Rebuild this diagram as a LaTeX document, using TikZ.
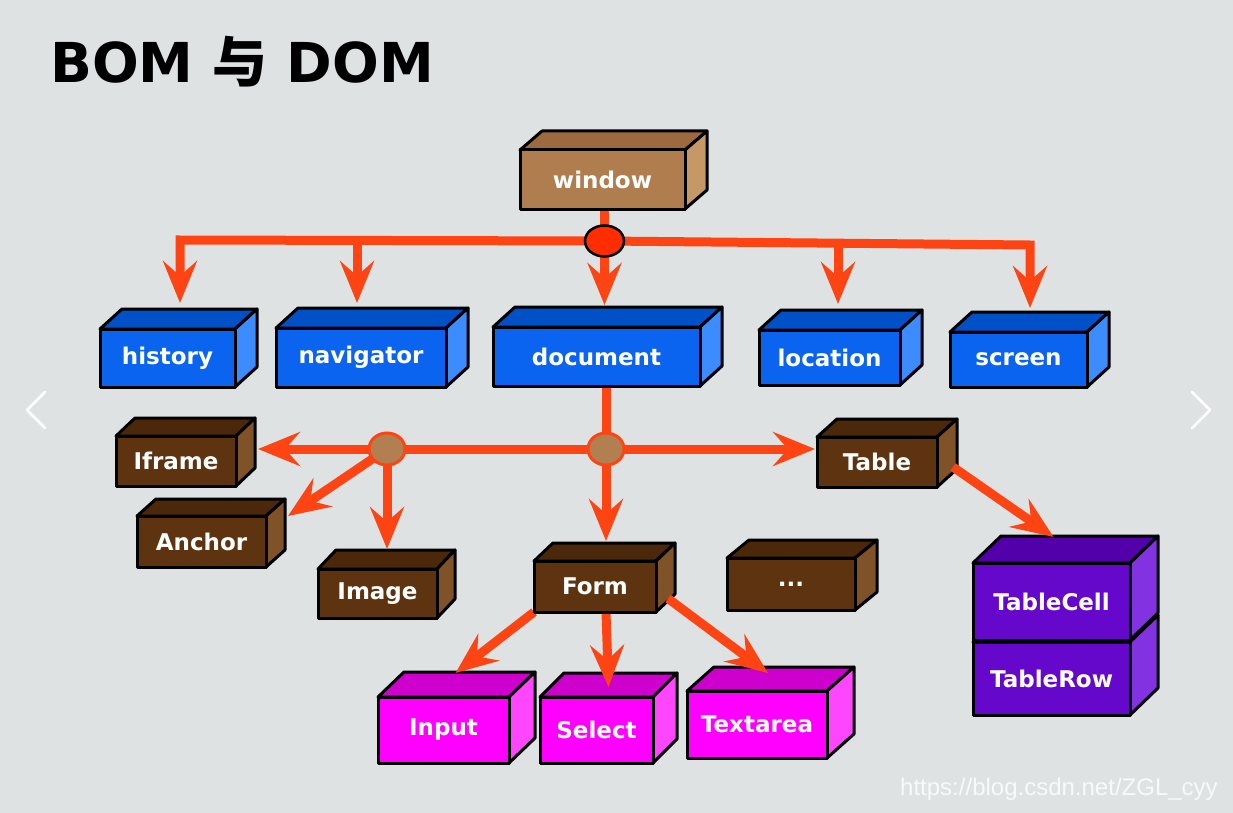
\documentclass[tikz,border=0pt]{standalone}
\usepackage{fontspec}
\setmainfont{DejaVu Sans}
\newfontfamily\cjk{Noto Sans CJK SC}
\newfontfamily\markfont{Liberation Sans}
\usepackage{xcolor}
\usetikzlibrary{arrows.meta,shapes.geometric,calc}

\definecolor{slidegray}{RGB}{222,226,226}
\definecolor{arrowred}{RGB}{255,68,20}
\definecolor{jred}{RGB}{255,45,0}
\definecolor{jbrown}{RGB}{178,128,80}
\definecolor{winfront}{RGB}{176,126,78}
\definecolor{wintop}{RGB}{156,106,62}
\definecolor{winside}{RGB}{198,152,102}
\definecolor{bomfront}{RGB}{10,100,240}
\definecolor{bomtop}{RGB}{0,80,200}
\definecolor{bomside}{RGB}{60,140,255}
\definecolor{domfront}{RGB}{94,52,16}
\definecolor{domtop}{RGB}{76,40,10}
\definecolor{domside}{RGB}{128,82,40}
\definecolor{formfront}{RGB}{255,0,255}
\definecolor{formtop}{RGB}{205,0,205}
\definecolor{formside}{RGB}{255,70,255}
\definecolor{cellfront}{RGB}{102,8,204}
\definecolor{celltop}{RGB}{82,0,170}
\definecolor{cellside}{RGB}{130,50,224}

\pgfdeclarelayer{backdrop}
\pgfdeclarelayer{faces}
\pgfdeclarelayer{lines}
\pgfsetlayers{backdrop,faces,lines,main}

\begin{document}
\begin{tikzpicture}[x=1pt,y=-1pt,
  box/.style={draw=black,line width=3pt,line join=round,outer sep=0pt,inner sep=0pt,
    text=white,font=\fontsize{23}{26}\selectfont\bfseries},
  face/.style={draw=black,line width=3pt,line join=round},
  conn/.style={draw=arrowred,line width=9pt},
  pointer/.style={-{Stealth[length=42pt,width=34pt,inset=15pt]},shorten >=#1},
  pointer/.default=0pt,
  junc/.style={ellipse,inner sep=0pt,outer sep=0pt}]
  \useasboundingbox (0,0) rectangle (1233,813);
  \begin{pgfonlayer}{backdrop}
    \fill[slidegray] (0,0) rectangle (1233,813);
  \end{pgfonlayer}

  % title and slide marks
  \node[anchor=base west,inner sep=0pt,font=\fontsize{55}{60}\selectfont\bfseries] (title) at (50,83) {BOM {\cjk 与} DOM};
  \node[anchor=base west,inner sep=0pt,text=white,opacity=0.8,font=\markfont\fontsize{24}{26}\selectfont] (mark) at (900,795) {https://blog.csdn.net/ZGL\_cyy};
  \draw[white,line width=2.5pt,line cap=round,line join=round] (45,392) -- (27,410) -- (45,428);
  \draw[white,line width=2.5pt,line cap=round,line join=round] (1192,392) -- (1210,410) -- (1192,428);

  % BOM
  \node[box,fill=winfront,minimum width=165,minimum height=59] (window) at (602.5,179.5) {window};
  \node[box,fill=bomfront,minimum width=135,minimum height=58] (history) at (167.5,358) {history};
  \node[box,fill=bomfront,minimum width=170,minimum height=59] (navigator) at (361,357.5) {navigator};
  \node[box,fill=bomfront,minimum width=207,minimum height=59] (document) at (596.5,356.5) {document};
  \node[box,fill=bomfront,minimum width=141,minimum height=55] (location) at (829.5,357.5) {location};
  \node[box,fill=bomfront,minimum width=137,minimum height=55] (screen) at (1018.5,359.5) {screen};

  % DOM
  \node[box,fill=domfront,minimum width=120,minimum height=50] (iframe) at (176,461) {Iframe};
  \node[box,fill=domfront,minimum width=129,minimum height=51] (anchor) at (201.5,541.5) {Anchor};
  \node[box,fill=domfront,minimum width=119,minimum height=49] (image) at (377.5,593.5) {Image};
  \node[box,fill=domfront,minimum width=122,minimum height=51] (form) at (595,586.5) {Form};
  \node[box,fill=domfront,minimum width=128,minimum height=52] (more) at (791,584) {...};
  \node[box,fill=domfront,minimum width=120,minimum height=50] (table) at (877,462) {Table};
  \node[box,fill=formfront,minimum width=131,minimum height=66] (input) at (443.5,730) {Input};
  \node[box,fill=formfront,minimum width=113,minimum height=66] (select) at (596.5,730) {Select};
  \node[box,fill=formfront,minimum width=140,minimum height=67] (textarea) at (757,724.5) {Textarea};
  \node[box,fill=cellfront,minimum width=157,minimum height=73] (tablerow) at (1051.5,678.5) {TableRow};
  \node[box,fill=cellfront,minimum width=157,minimum height=77] (tablecell) at (1051.5,601.5) {TableCell};

  % top and side of every box
  \begin{pgfonlayer}{faces}
    \foreach \n/\t/\s/\d/\e in {window/wintop/winside/22/19,
        history/bomtop/bomside/22/20, navigator/bomtop/bomside/22/20,
        document/bomtop/bomside/22/20, location/bomtop/bomside/22/20,
        screen/bomtop/bomside/22/20,
        iframe/domtop/domside/19/18, anchor/domtop/domside/19/17,
        image/domtop/domside/18/19, form/domtop/domside/19/18,
        more/domtop/domside/22/18, table/domtop/domside/20/18,
        input/formtop/formside/26/25, select/formtop/formside/24/24,
        textarea/formtop/formside/27/24,
        tablerow/celltop/cellside/28/27, tablecell/celltop/cellside/28/27} {
      \draw[face,fill=\t] (\n.north west) -- ++(\d,-\e) -- ([xshift=\d,yshift=\e]\n.north east) -- (\n.north east) -- cycle;
      \draw[face,fill=\s] (\n.north east) -- ++(\d,-\e) -- ([xshift=\d,yshift=\e]\n.south east) -- (\n.south east) -- cycle;
    }
  \end{pgfonlayer}

  % junctions
  \node[junc,draw=black,line width=2.5pt,fill=jred,minimum width=39,minimum height=31] (j1) at (604.5,241) {};
  \node[junc,draw=arrowred,line width=3pt,fill=jbrown,minimum width=36,minimum height=32] (j2) at (387,449) {};
  \node[junc,draw=arrowred,line width=3pt,fill=jbrown,minimum width=36,minimum height=32] (j3) at (606,449) {};
  \coordinate (hb) at (180,240);
  \coordinate (nb) at (357,240);
  \coordinate (lb) at (838,243);
  \coordinate (sb) at (1030,245);

  \begin{pgfonlayer}{lines}
    \draw[conn] (window.south -| j1) -- (j1);
    \draw[conn,pointer=22] (j1) -- (j1 |- document.north);
    \draw[conn,pointer=26] (j1) -- (hb) -- (hb |- history.north);
    \draw[conn,pointer=25] (nb) -- (nb |- navigator.north);
    \draw[conn,pointer=26] (lb) -- (lb |- location.north);
    \draw[conn,pointer=24] (j1) -- (sb) -- (sb |- screen.north);

    \draw[conn] (document.south -| j3) -- (j3);
    \draw[conn] (j3) -- (j2);
    \draw[conn,pointer=22] (j2) -- (iframe.east |- j2);
    \draw[conn,pointer=2] (j3) -- (table.west |- j3);
    \draw[conn,pointer] (j2) -- ([xshift=22]anchor.north east);
    \draw[conn,pointer=20] (j2) -- (j2 |- image.north);
    \draw[conn,pointer=20] (j3) -- (j3 |- form.north);
    \draw[conn,pointer] (form.south west) -- ([xshift=12,yshift=24]input.north);
    \draw[conn,pointer] (form.south -| j3) -- ([xshift=12,yshift=10]select.north);
    \draw[conn,pointer] ([xshift=12,yshift=-12]form.east) -- ([xshift=11,yshift=18]textarea.north);
    \draw[conn,pointer] ([xshift=16,yshift=-5]table.east) -- ([xshift=2,yshift=26]tablecell.north);
  \end{pgfonlayer}
\end{tikzpicture}
\end{document}
